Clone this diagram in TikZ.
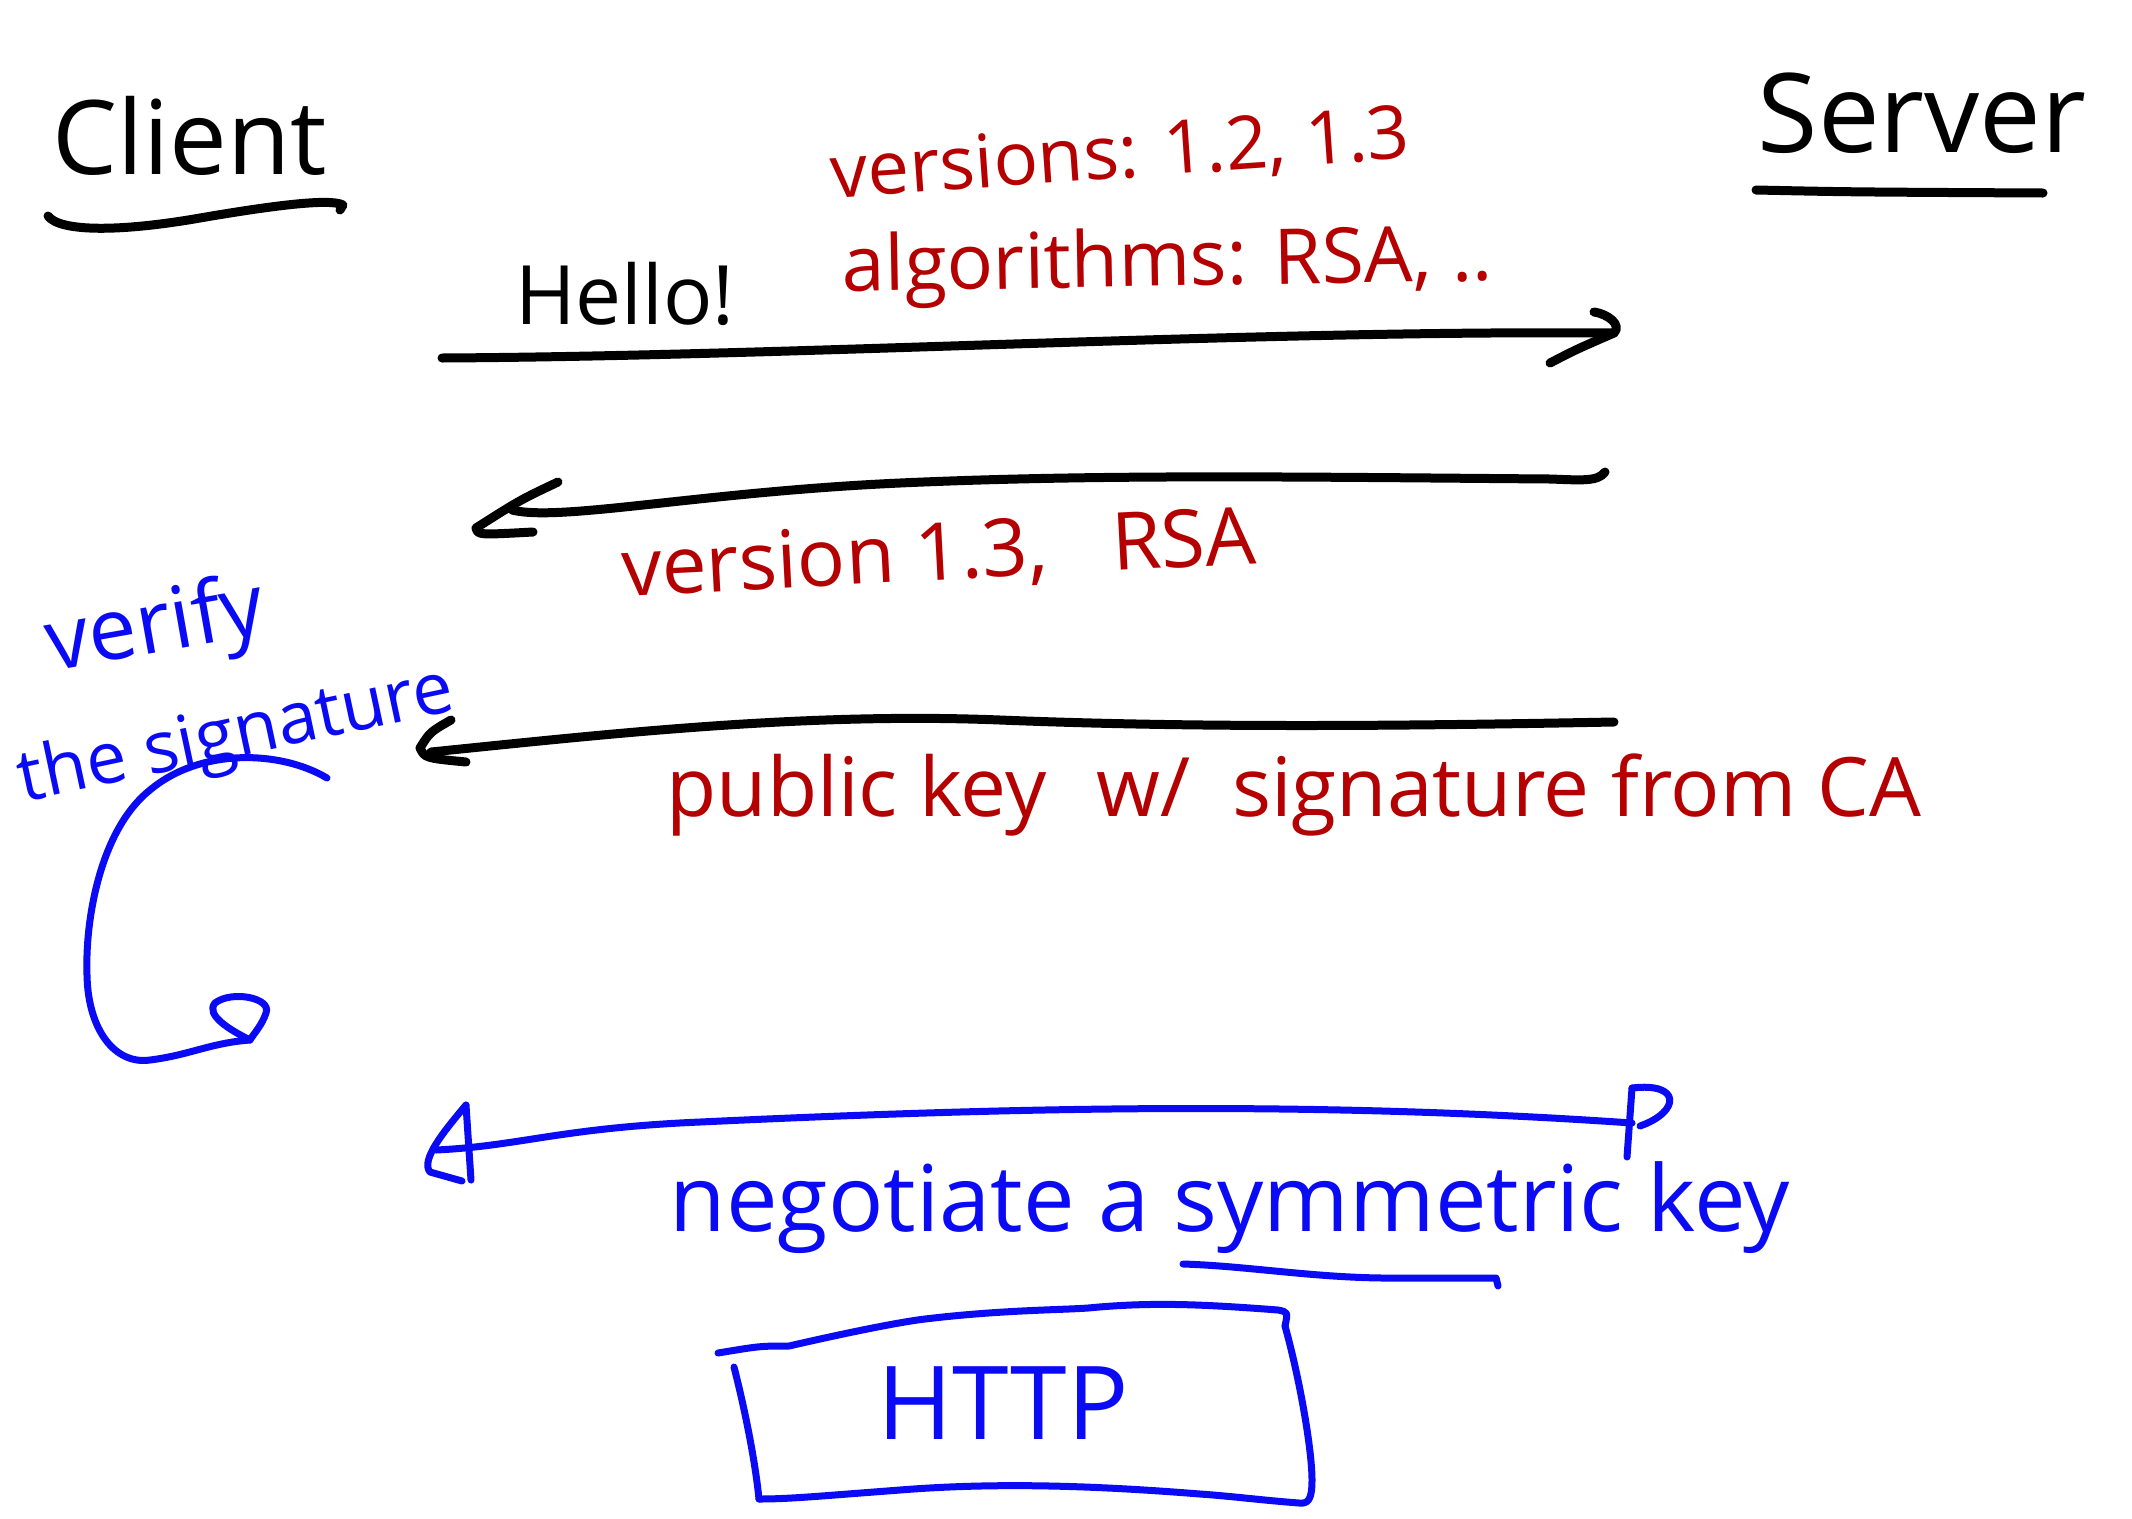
\documentclass[tikz,border=0pt]{standalone}
\usepackage{fontspec}
\setmainfont{Open Sans}
\definecolor{hred}{RGB}{180,0,0}
\definecolor{hblue}{RGB}{10,10,245}
\tikzset{
  ink/.style={line width=9pt, line cap=round, line join=round},
  blueink/.style={line width=7pt, line cap=round, line join=round, draw=hblue},
  hw/.style={inner sep=0pt, anchor=base},
  redtxt/.style={hw, text=hred},
  bluetxt/.style={hw, text=hblue},
}
\newcommand{\fs}[1]{\fontsize{#1}{#1}\selectfont}
\begin{document}
\begin{tikzpicture}[x=1pt,y=-1pt]
\useasboundingbox[fill=white] (0,0) rectangle (2132,1518);

% titles
\node[hw] (client) at (190,174) {\fs{103}Client};
\draw[ink] (48,216) .. controls (60,232) and (120,232) .. (200,218) .. controls (270,206) and (330,198) .. (343,205) -- (340,210);
\node[hw] (server) at (1922,152) {\fs{110}Server};
\draw[ink] (1756,190) .. controls (1850,192) .. (2043,193);

% message 1
\node[redtxt, rotate=4] (versions) at (1122,178) {\fs{74}versions: 1.2, 1.3};
\node[hw] (hello) at (625,324) {\fs{82}Hello!};
\node[redtxt, rotate=1] (algs) at (1168,286) {\fs{77}algorithms: RSA, ..};
\coordinate (a1s) at (442,358);
\coordinate (a1e) at (1614,333);
\draw[ink] (a1s) .. controls (800,356) and (1250,330) .. (a1e);
\draw[ink] (1550,363) .. controls (1575,350) .. (a1e) .. controls (1622,325) and (1608,314) .. (1594,312);

% message 2
\coordinate (a2s) at (1605,472);
\coordinate (a2e) at (512,510);
\draw[ink] (a2s) .. controls (1598,482) and (1580,480) .. (1550,479) .. controls (1300,477) and (1100,474) .. (900,483) .. controls (700,492) and (560,522) .. (a2e);
\draw[ink] (558,482) .. controls (520,500) .. (476,528) .. controls (478,535) .. (533,532);
\node[redtxt, rotate=3] (v13) at (940,580) {\fs{80}version 1.3,\hspace{0.8em}RSA};

% message 3
\node[bluetxt, rotate=10] (verify) at (160,652) {\fs{86}verify};
\node[bluetxt, rotate=12] (thesig) at (240,756) {\fs{72}the signature};
\coordinate (a3s) at (1614,722);
\coordinate (a3e) at (431,752);
\draw[ink] (a3s) .. controls (1400,726) and (1200,728) .. (1000,720) .. controls (800,712) and (600,735) .. (a3e);
\draw[ink] (451,720) .. controls (430,732) .. (420,748) .. controls (425,758) .. (466,762);
\node[redtxt] (pubkey) at (1294,816) {\fs{82}public key\hspace{0.35em} w/\hspace{0.25em} signature from CA};

% self loop (verify)
\coordinate (l1s) at (327,778);
\coordinate (l1e) at (250,1040);
\draw[blueink] (l1s) .. controls (280,750) and (200,748) .. (150,790) .. controls (100,830) and (85,920) .. (87,975) .. controls (88,1030) and (115,1065) .. (150,1060) .. controls (190,1055) and (210,1043) .. (l1e);
\draw[blueink] (l1e) .. controls (230,1030) and (205,1015) .. (215,1003) .. controls (232,990) and (272,998) .. (266,1013) .. controls (262,1025) and (255,1032) .. (l1e);

% message 4 (both directions)
\coordinate (dl) at (436,1150);
\coordinate (dr) at (1632,1123);
\draw[blueink] (dl) .. controls (520,1146) and (560,1128) .. (700,1122) .. controls (1000,1108) and (1300,1100) .. (dr);
\draw[blueink] (466,1105) -- (471,1180);
\draw[blueink] (466,1105) .. controls (445,1130) and (420,1160) .. (430,1172) -- (462,1181);
\draw[blueink] (1632,1088) -- (1627,1157);
\draw[blueink] (1632,1088) .. controls (1682,1082) and (1680,1112) .. (1640,1126);
\node[bluetxt] (negot) at (1230,1231) {\fs{92}negotiate a symmetric key};
\draw[blueink] (1183,1264) .. controls (1250,1266) and (1320,1279) .. (1400,1278) -- (1496,1278) -- (1498,1286);

% HTTP box
\node[bluetxt] (http) at (1003,1439) {\fs{102}HTTP};
\draw[blueink] (718,1353) .. controls (760,1346) .. (789,1346) .. controls (850,1332) and (900,1322) .. (925,1319) .. controls (1000,1310) and (1060,1310) .. (1088,1308) .. controls (1150,1302) and (1200,1304) .. (1278,1310) .. controls (1288,1312) .. (1285,1326);
\draw[blueink] (1285,1326) .. controls (1300,1380) and (1312,1450) .. (1312,1480) .. controls (1312,1500) and (1308,1504) .. (1299,1503) .. controls (1260,1500) and (1230,1496) .. (1200,1494) .. controls (1100,1486) and (1000,1482) .. (900,1490) .. controls (820,1496) and (790,1499) .. (759,1499);
\draw[blueink] (759,1499) .. controls (755,1460) and (745,1410) .. (734,1367);
\end{tikzpicture}
\end{document}
